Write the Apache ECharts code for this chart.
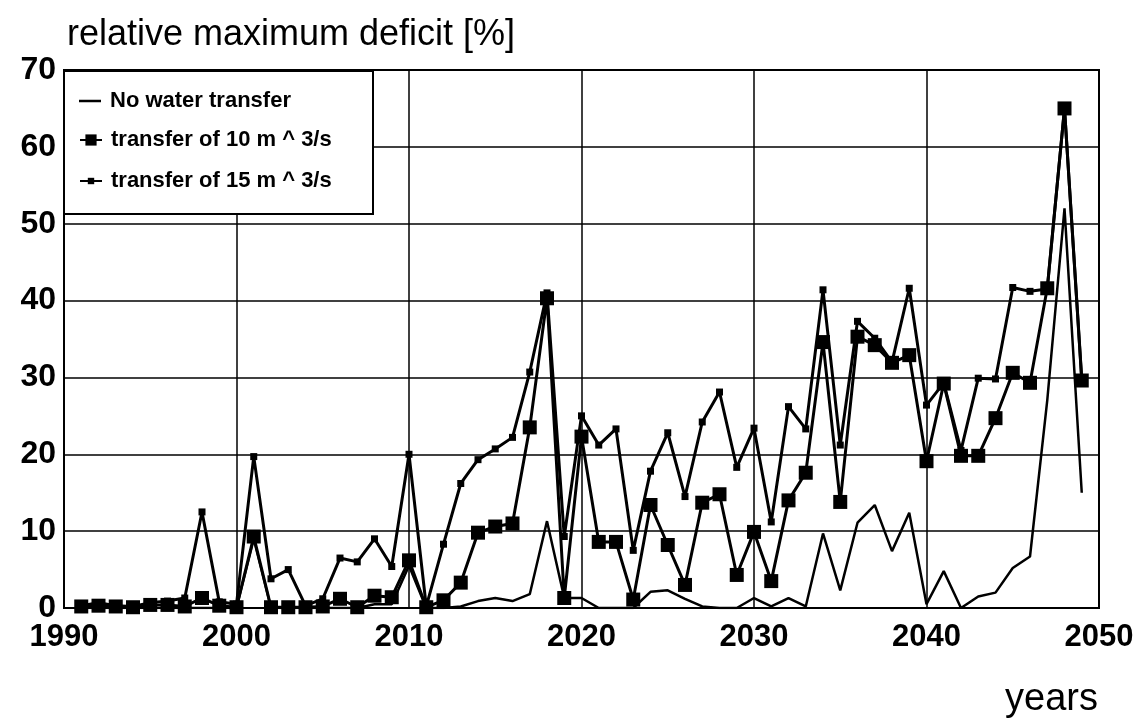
<!DOCTYPE html>
<html><head><meta charset="utf-8">
<script src="https://cdn.jsdelivr.net/npm/echarts@6/dist/echarts.min.js"></script>
<style>html,body{margin:0;padding:0;background:#fff}#c{width:1142px;height:723px}</style>
</head><body><div id="c"></div>
<script>
const years = [];
for (let y = 1991; y <= 2049; y++) years.push(y);
const noTransfer = [0,0,0,0,0,0,0,0,0,0, 9,0,0,0,0,0,0,0.5,0.5,5.5, 0,0,0.2,0.9,1.3,0.9,1.8,11.3,1.3,1.3, 0,0,0,2.1,2.3,1.2,0.2,0,0,1.3, 0.2,1.3,0.2,9.7,2.3,11.1,13.4,7.4,12.4,0.5, 4.8,0,1.5,2,5.2,6.7,27,52,15];
const transfer10 = [0.2,0.3,0.2,0.1,0.4,0.4,0.2,1.3,0.3,0.1, 9.3,0.1,0.1,0.1,0.2,1.2,0.1,1.6,1.4,6.2, 0.1,1.0,3.3,9.8,10.6,11.0,23.5,40.3,1.3,22.3, 8.6,8.6,1.1,13.4,8.2,3.0,13.7,14.8,4.3,9.9, 3.5,14.0,17.6,34.6,13.8,35.3,34.2,31.9,32.9,19.1, 29.2,19.8,19.8,24.7,30.6,29.3,41.6,65,29.6];
const transfer15 = [0.3,0.7,0.3,0.2,0.7,0.9,1.3,12.5,0.8,0.5, 19.7,3.8,5.0,0.3,1.2,6.5,6.0,9.0,5.4,20.0, 0.2,8.3,16.2,19.3,20.7,22.2,30.7,41.0,9.3,25.0, 21.2,23.3,7.5,17.8,22.8,14.5,24.2,28.1,18.3,23.4, 11.2,26.2,23.3,41.4,21.2,37.3,35.1,32.0,41.6,26.4, 29.3,20.5,29.9,29.8,41.7,41.2,41.5,65,29.8];
const seriesNames = ['No water transfer','transfer of 10 m ^ 3/s','transfer of 15 m ^ 3/s'];
const pairs = arr => years.map((y, i) => [y, arr[i]]);

const chart = echarts.init(document.getElementById('c'), null, {renderer: 'canvas'});
const FONT = 'Liberation Sans, Arial, sans-serif';
const legText = {fontFamily: FONT, fontSize: 22, fontWeight: 'bold', color: '#000', lineHeight: 22, padding: [0, 0, 0, 4]};
chart.setOption({
  animation: false,
  backgroundColor: '#fff',
  title: [
    {text: 'relative maximum deficit [%]', left: 62, top: 12,
     textStyle: {fontFamily: FONT, fontSize: 36, fontWeight: 'normal', color: '#000'}},
    {text: 'years', left: 1000, top: 676,
     textStyle: {fontFamily: FONT, fontSize: 38, fontWeight: 'normal', color: '#000'}}
  ],
  graphic: [{
    type: 'rect', left: 63, top: 70, z: 10,
    shape: {width: 309, height: 143},
    style: {fill: '#fff', stroke: '#000', lineWidth: 2}
  }],
  grid: {left: 64, right: 43, top: 70, bottom: 115, show: true, borderColor: '#000', borderWidth: 2},
  legend: [
    {left: 79, top: 90, padding: 0, z: 20, icon: 'rect', itemWidth: 22, itemHeight: 2.5,
     data: [seriesNames[0]], textStyle: legText},
    {left: 79, top: 129, padding: 0, z: 20, itemWidth: 22, itemHeight: 14,
     data: [seriesNames[1]], textStyle: legText},
    {left: 79, top: 170, padding: 0, z: 20, itemWidth: 22, itemHeight: 8,
     data: [seriesNames[2]], textStyle: legText}
  ],
  xAxis: {
    type: 'value', min: 1990, max: 2050, interval: 10,
    axisLine: {show: true, lineStyle: {color: '#000', width: 2}},
    axisTick: {show: false},
    splitLine: {show: true, lineStyle: {color: '#000', width: 1.5}},
    axisLabel: {margin: 14, fontFamily: FONT, fontSize: 31, fontWeight: 'bold', color: '#000', formatter: v => String(v)}
  },
  yAxis: {
    type: 'value', min: 0, max: 70, interval: 10,
    axisLine: {show: true, lineStyle: {color: '#000', width: 2}},
    axisTick: {show: false},
    splitLine: {show: true, lineStyle: {color: '#000', width: 1.5}},
    axisLabel: {margin: 8, fontFamily: FONT, fontSize: 32, fontWeight: 'bold', color: '#000'}
  },
  series: [
    {name: seriesNames[0], type: 'line', data: pairs(noTransfer), symbol: 'none',
     lineStyle: {color: '#000', width: 2.5}, itemStyle: {color: '#000'}, z: 2},
    {name: seriesNames[2], type: 'line', data: pairs(transfer15), symbol: 'rect', symbolSize: 7,
     lineStyle: {color: '#000', width: 3}, itemStyle: {color: '#000'}, z: 3},
    {name: seriesNames[1], type: 'line', data: pairs(transfer10), symbol: 'rect', symbolSize: 14,
     lineStyle: {color: '#000', width: 3}, itemStyle: {color: '#000'}, z: 4}
  ]
});
</script></body></html>
